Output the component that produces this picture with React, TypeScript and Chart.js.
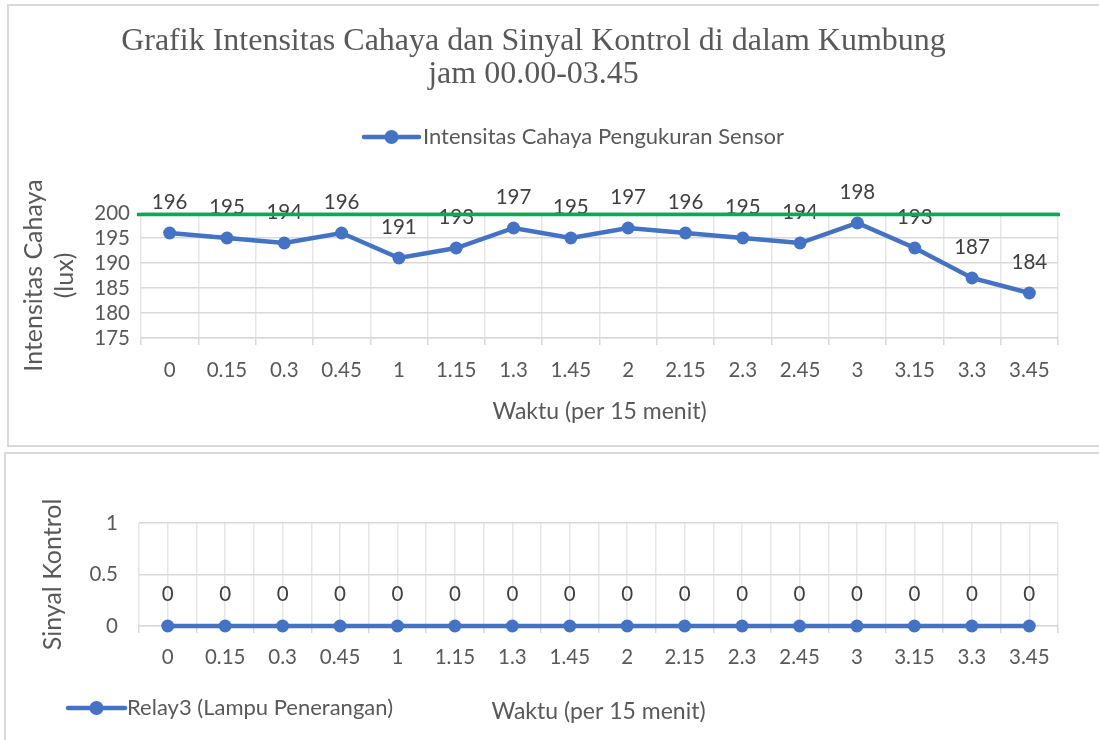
import React, { useEffect, useRef } from 'react';
import { Chart, registerables } from 'chart.js';

Chart.register(...registerables);

// ---------- data ----------
const timeLabels = ['0', '0.15', '0.3', '0.45', '1', '1.15', '1.3', '1.45', '2', '2.15', '2.3', '2.45', '3', '3.15', '3.3', '3.45'];
const intensityValues = [196, 195, 194, 196, 191, 193, 197, 195, 197, 196, 195, 194, 198, 193, 187, 184];
const relayValues = [0, 0, 0, 0, 0, 0, 0, 0, 0, 0, 0, 0, 0, 0, 0, 0];
const intensityRange = [175, 200];
const intensityStep = 5;
const relayRange = [0, 1];
const relayStep = 0.5;
const thresholdLux = 199.7;

const chartTitle = ['Grafik Intensitas Cahaya dan Sinyal Kontrol di dalam Kumbung', 'jam 00.00-03.45'];
const intensitySeriesName = 'Intensitas Cahaya Pengukuran Sensor';
const relaySeriesName = 'Relay3 (Lampu Penerangan)';
const xAxisTitle = 'Waktu (per 15 menit)';
const intensityAxisTitle = ['Intensitas Cahaya', '(lux)'];
const relayAxisTitle = 'Sinyal Kontrol';

// ---------- styles ----------
const BLUE = '#4472C4';
const GREEN = '#00B050';
const TEXT = '#595959';
const LABEL = '#404040';
const GRID = '#d9d9d9';
const VGRID = '#e6e6e6';
const SANS = 'Lato';
const FS = 20.5; // ticks and value labels
const LF = 22; // legend
const XT = 23; // x axis title
const YT = 25; // y axis title

function measure(text: string, font: string) {
  const c = document.createElement('canvas');
  const ctx = c.getContext('2d')!;
  ctx.font = font;
  return ctx.measureText(text).width;
}

// legend marker image: line with a circle, positioned inside a wider transparent canvas
function makeMarker(boxLeft: number, boxWidth: number, m0: number, m1: number) {
  const cx = boxLeft + boxWidth / 2;
  const half = Math.max(cx - m0, m1 - cx) + 3;
  const W = Math.ceil(half * 2);
  const left = cx - W / 2;
  const c = document.createElement('canvas');
  c.width = W;
  c.height = 18;
  const ctx = c.getContext('2d')!;
  const a = m0 - left;
  const b = m1 - left;
  ctx.strokeStyle = BLUE;
  ctx.lineWidth = 4.5;
  ctx.lineCap = 'round';
  ctx.beginPath();
  ctx.moveTo(a, 9);
  ctx.lineTo(b, 9);
  ctx.stroke();
  ctx.fillStyle = BLUE;
  ctx.beginPath();
  ctx.arc((a + b) / 2, 9, 7, 0, Math.PI * 2);
  ctx.fill();
  return c;
}

const valueLabelPlugin = {
  id: 'valueLabels',
  afterDatasetsDraw(chart: any, _args: any, opts: any) {
    const ctx = chart.ctx;
    ctx.save();
    ctx.font = `${FS}px ${SANS}`;
    ctx.fillStyle = LABEL;
    ctx.textAlign = 'center';
    ctx.textBaseline = 'middle';
    chart.data.datasets.forEach((ds: any, i: number) => {
      const meta = chart.getDatasetMeta(i);
      meta.data.forEach((pt: any, j: number) => {
        ctx.fillText(String(ds.data[j]), pt.x, pt.y - (opts.offset || 31));
      });
    });
    ctx.restore();
  },
};

const thresholdPlugin = {
  id: 'thresholdLine',
  afterDraw(chart: any, _args: any, opts: any) {
    if (opts.value == null) return;
    const { ctx, chartArea } = chart;
    const y = chart.scales.y.getPixelForValue(opts.value);
    ctx.save();
    ctx.strokeStyle = GREEN;
    ctx.lineWidth = 3.5;
    ctx.beginPath();
    ctx.moveTo(chartArea.left - 4, y);
    ctx.lineTo(chartArea.right + 2, y);
    ctx.stroke();
    ctx.restore();
  },
};

const numTick = (v: any) => String(v);

function TopChart() {
  const ref = useRef<HTMLCanvasElement>(null);
  useEffect(() => {
    const tw = measure(intensitySeriesName, `${LF}px ${SANS}`);
    const T = 414;
    const w = Math.max(30, tw - 1049 - LF / 2 + 2 * T);
    const boxLeft = T - LF / 2 - w;
    const marker = makeMarker(boxLeft, w, 355, 410);
    const chart = new Chart(ref.current!, {
      type: 'line',
      data: {
        labels: timeLabels,
        datasets: [
          {
            label: intensitySeriesName,
            data: intensityValues,
            borderColor: BLUE,
            backgroundColor: BLUE,
            borderWidth: 4.5,
            pointRadius: 6.5,
            pointBorderWidth: 0,
            pointBackgroundColor: BLUE,
            tension: 0,
            clip: false as any,
          },
        ],
      },
      options: {
        responsive: false,
        animation: false,
        events: [],
        layout: { padding: { top: 0, left: 0, right: 41, bottom: 0 } },
        scales: {
          x: {
            offset: true,
            grid: { offset: true, color: VGRID, lineWidth: 1.5, tickLength: 7, tickColor: GRID },
            border: { color: GRID, width: 1.5 },
            ticks: { color: TEXT, font: { family: SANS, size: FS }, padding: 12.7, maxRotation: 0, autoSkip: false },
            title: { display: true, text: xAxisTitle, color: TEXT, font: { family: SANS, size: XT }, padding: { top: 0, bottom: 19.2 } },
            afterFit(scale: any) { scale.height = 107; },
          },
          y: {
            min: intensityRange[0],
            max: intensityRange[1],
            ticks: { stepSize: intensityStep, autoSkip: false, callback: numTick, color: TEXT, font: { family: SANS, size: FS }, padding: 11 },
            grid: { color: GRID, lineWidth: 1.5, drawTicks: false },
            border: { display: false },
            title: { display: true, text: intensityAxisTitle, color: TEXT, font: { family: SANS, size: YT, lineHeight: 31 / YT }, padding: { top: 9.5, bottom: 0 } },
            afterFit(scale: any) { scale.width = 132; },
          },
        },
        plugins: {
          title: {
            display: true,
            text: chartTitle,
            color: TEXT,
            font: { family: 'Liberation Serif', size: 32, weight: 'normal', lineHeight: 33 / 32 },
            padding: { top: 19, bottom: 36 - LF / 2 },
          },
          subtitle: {
            display: true,
            text: '',
            weight: 500,
            font: { size: 10, lineHeight: 1 },
            padding: { top: 207 - (85 + 36 - LF / 2 + LF + 20) - 10, bottom: 0 },
          } as any,
          legend: {
            display: true,
            position: 'top',
            labels: {
              color: TEXT,
              font: { family: SANS, size: LF },
              usePointStyle: true,
              pointStyle: marker as any,
              pointStyleWidth: w,
              padding: 10,
            },
          },
          tooltip: { enabled: false },
          valueLabels: { offset: 31 },
          thresholdLine: { value: thresholdLux },
        } as any,
      },
      plugins: [valueLabelPlugin, thresholdPlugin],
    });
    return () => chart.destroy();
  }, []);
  return <canvas ref={ref} width={1090} height={439} style={{ display: 'block' }} />;
}

function BottomChart() {
  const ref = useRef<HTMLCanvasElement>(null);
  useEffect(() => {
    const w = 121 - 10 - LF / 2;
    const marker = makeMarker(10, w, 62, 119);
    const bottomPad = 22 - LF / 2;
    const legendTop = 286 - bottomPad - (LF + 20);
    const xHeight = legendTop - 172;
    const chart = new Chart(ref.current!, {
      type: 'line',
      data: {
        labels: timeLabels,
        datasets: [
          {
            label: relaySeriesName,
            data: relayValues,
            borderColor: BLUE,
            backgroundColor: BLUE,
            borderWidth: 4.5,
            pointRadius: 6.5,
            pointBorderWidth: 0,
            pointBackgroundColor: BLUE,
            tension: 0,
            clip: false as any,
          },
        ],
      },
      options: {
        responsive: false,
        animation: false,
        events: [],
        layout: { padding: { top: 69, left: 0, right: 41, bottom: bottomPad } },
        scales: {
          x: {
            offset: true,
            grid: { offset: true, color: VGRID, lineWidth: 1.5, tickLength: 7, tickColor: GRID },
            border: { color: GRID, width: 1.5 },
            ticks: { color: TEXT, font: { family: SANS, size: FS }, padding: 11.7, maxRotation: 0, autoSkip: false },
            title: { display: true, text: xAxisTitle, color: TEXT, font: { family: SANS, size: XT }, padding: { top: 0, bottom: legendTop - (XT * 0.6) - 258 } },
            afterFit(scale: any) { scale.height = xHeight; },
          },
          x2: {
            type: 'category',
            position: 'bottom',
            offset: true,
            grid: { offset: false, color: VGRID, lineWidth: 1.5, drawTicks: false },
            border: { display: false },
            ticks: { display: false },
            afterFit(scale: any) { scale.height = 0; },
          } as any,
          y: {
            min: relayRange[0],
            max: relayRange[1],
            ticks: { stepSize: relayStep, autoSkip: false, callback: numTick, color: TEXT, font: { family: SANS, size: FS }, padding: 21 },
            grid: { color: GRID, lineWidth: 1.5, drawTicks: false },
            border: { display: false },
            title: { display: true, text: relayAxisTitle, color: TEXT, font: { family: SANS, size: YT, lineHeight: 1.2 }, padding: { top: 47 - YT * 0.6, bottom: 0 } },
            afterFit(scale: any) { scale.width = 133; },
          },
        },
        plugins: {
          title: { display: false },
          legend: {
            display: true,
            position: 'bottom',
            align: 'start',
            labels: {
              color: TEXT,
              font: { family: SANS, size: LF },
              usePointStyle: true,
              pointStyle: marker as any,
              pointStyleWidth: w,
              padding: 10,
            },
          },
          tooltip: { enabled: false },
          valueLabels: { offset: 32 },
        } as any,
      },
      plugins: [valueLabelPlugin],
    });
    return () => chart.destroy();
  }, []);
  return <canvas ref={ref} width={1093} height={286} style={{ display: 'block' }} />;
}

export default function App() {
  const border = `2px solid ${GRID}`;
  return (
    <>
      <div style={{ position: 'absolute', left: 7, top: 4, width: 1090, borderTop: border, borderLeft: border, borderBottom: border, background: '#fff' }}>
        <TopChart />
      </div>
      <div style={{ position: 'absolute', left: 4, top: 452, width: 1093, borderTop: border, borderLeft: border, background: '#fff' }}>
        <BottomChart />
      </div>
    </>
  );
}
